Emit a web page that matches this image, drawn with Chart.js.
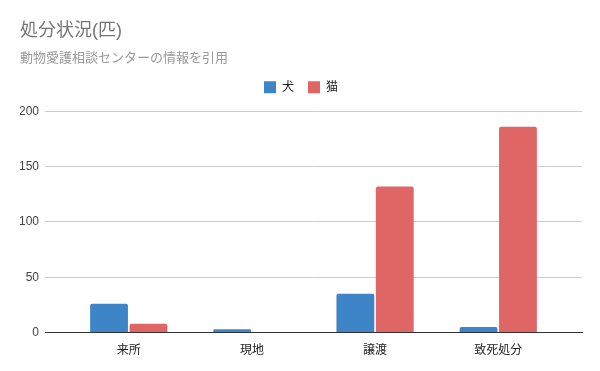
<!DOCTYPE html>
<html lang="ja">
<head>
<meta charset="utf-8">
<title>処分状況(匹)</title>
<script src="https://cdn.jsdelivr.net/npm/chart.js@4/dist/chart.umd.min.js"></script>
<style>
  html, body { margin: 0; padding: 0; background: #fff; }
  #wrap { width: 600px; height: 371px; position: relative; }
</style>
</head>
<body>
<div id="wrap"><canvas id="disposalChart"></canvas></div>
<script>
// ── Data ─────────────────────────────────────────────
const categories = ['来所', '現地', '譲渡', '致死処分'];
const dogValues  = [26, 3, 35, 5];
const catValues  = [8, 0, 132, 186];
const yTicks     = [0, 50, 100, 150, 200];

const FONT = "'Liberation Sans', 'Noto Sans CJK JP', Arial, sans-serif";

// bars on a linear x axis so the category band can be narrower than the grid
const toPoints = vals => vals.map((v, i) => ({ x: i, y: v }));

// extra room under the legend
const legendGap = {
  id: 'legendGap',
  beforeInit(chart) {
    const fit = chart.legend.fit;
    chart.legend.fit = function () {
      fit.call(this);
      this.height += 8;
    };
  }
};

new Chart(document.getElementById('disposalChart'), {
  type: 'bar',
  data: {
    datasets: [
      {
        label: '犬',
        data: toPoints(dogValues),
        backgroundColor: '#3d85c6',
        borderRadius: 2,
        categoryPercentage: 0.64,
        barPercentage: 0.96
      },
      {
        label: '猫',
        data: toPoints(catValues),
        backgroundColor: '#e06666',
        borderRadius: 2,
        categoryPercentage: 0.64,
        barPercentage: 0.96
      }
    ]
  },
  plugins: [legendGap],
  options: {
    responsive: true,
    maintainAspectRatio: false,
    animation: false,
    layout: { padding: { left: 20, right: 18, top: 0, bottom: 10 } },
    plugins: {
      title: {
        display: true,
        text: '処分状況(匹)',
        align: 'start',
        color: '#757575',
        font: { family: FONT, size: 18, weight: 'normal' },
        padding: { top: 20, bottom: 4 }
      },
      subtitle: {
        display: true,
        text: '動物愛護相談センターの情報を引用',
        align: 'start',
        color: '#999999',
        font: { family: FONT, size: 13, weight: 'normal' },
        padding: { top: 5, bottom: 1 }
      },
      legend: {
        position: 'top',
        labels: {
          boxWidth: 12,
          boxHeight: 12,
          padding: 14,
          color: '#222',
          font: { family: FONT, size: 12 }
        }
      },
      tooltip: { enabled: false }
    },
    scales: {
      x: {
        type: 'linear',
        offset: false,
        min: -0.68,
        max: 3.68,
        afterBuildTicks: scale => {
          scale.ticks = categories.map((c, i) => ({ value: i }));
        },
        grid: { display: false, offset: false },
        border: { display: true, color: '#333', width: 1 },
        ticks: {
          color: '#222',
          padding: 3,
          maxRotation: 0,
          autoSkip: false,
          font: { family: FONT, size: 12 },
          callback: v => categories[v]
        }
      },
      y: {
        min: yTicks[0],
        max: yTicks[yTicks.length - 1],
        afterBuildTicks: scale => {
          scale.ticks = yTicks.map(v => ({ value: v }));
        },
        afterFit: scale => { scale.width = 25; },
        grid: { color: '#cccccc', drawTicks: false },
        border: { display: false },
        ticks: {
          color: '#444',
          padding: 6,
          font: { family: FONT, size: 12 }
        }
      }
    }
  }
});
</script>
</body>
</html>
